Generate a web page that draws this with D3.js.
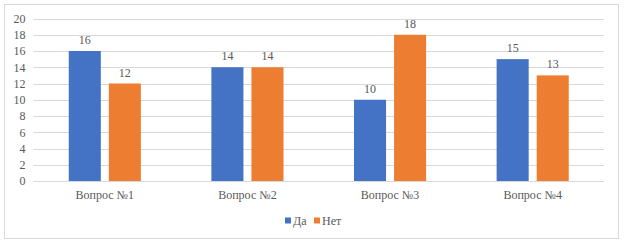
<!DOCTYPE html>
<html>
<head>
<meta charset="utf-8">
<script src="https://cdn.jsdelivr.net/npm/d3@7"></script>
<style>
  html, body { margin: 0; padding: 0; background: #fff; }
  svg text { fill: #595959; }
</style>
</head>
<body>
<div id="chart"></div>
<script>
// --- Data ---
const categories = ['Вопрос №1', 'Вопрос №2', 'Вопрос №3', 'Вопрос №4'];
const seriesNames = ['Да', 'Нет'];
const daValues = [16, 14, 10, 15];
const netValues = [12, 14, 18, 13];
const yTicks = [0, 2, 4, 6, 8, 10, 12, 14, 16, 18, 20];
const colors = ['#4472c4', '#ed7d31'];

const W = 624, H = 244;
const margin = { left: 33.5, right: 20, top: 18.5, bottom: 63 };
const FONT = 'Tinos, "Liberation Serif", "DejaVu Serif", serif';

const svg = d3.select('#chart').append('svg')
    .attr('width', W).attr('height', H)
    .style('font-family', FONT);

// outer chart frame
svg.append('rect')
    .attr('x', 4.5).attr('y', 4.5)
    .attr('width', 614).attr('height', 234)
    .attr('fill', '#fff')
    .attr('stroke', '#d9d9d9');

const x = d3.scaleBand()
    .domain(categories)
    .range([margin.left, W - margin.right]);

const y = d3.scaleLinear()
    .domain([0, 20])
    .range([H - margin.bottom, margin.top]);

const xs = d3.scaleBand()
    .domain(seriesNames)
    .range([0, x.bandwidth()])
    .paddingInner(0.2)
    .paddingOuter(0.88);

// gridlines
svg.append('g')
    .selectAll('line')
    .data(yTicks)
    .join('line')
    .attr('x1', margin.left).attr('x2', W - margin.right)
    .attr('y1', d => Math.round(y(d)) + 0.5)
    .attr('y2', d => Math.round(y(d)) + 0.5)
    .attr('stroke', '#d9d9d9')
    .attr('stroke-width', 1);

// y axis labels
const yAxis = d3.axisLeft(y).tickValues(yTicks).tickSize(0).tickPadding(8);
const gy = svg.append('g')
    .attr('transform', `translate(${margin.left},0)`)
    .call(yAxis);
gy.attr('font-family', null);
gy.select('.domain').remove();
gy.selectAll('text').attr('font-size', 12).attr('fill', '#595959');

// bars
const rows = categories.map((c, i) => ({ cat: c, vals: [daValues[i], netValues[i]] }));
const groups = svg.append('g')
    .selectAll('g')
    .data(rows)
    .join('g')
    .attr('transform', d => `translate(${x(d.cat)},0)`);

groups.selectAll('rect')
    .data(d => d.vals.map((v, j) => ({ name: seriesNames[j], v, j })))
    .join('rect')
    .attr('x', d => xs(d.name))
    .attr('width', xs.bandwidth())
    .attr('y', d => y(d.v))
    .attr('height', d => y(0) - y(d.v))
    .attr('fill', d => colors[d.j]);

groups.selectAll('text.val')
    .data(d => d.vals.map((v, j) => ({ name: seriesNames[j], v, j })))
    .join('text')
    .attr('class', 'val')
    .attr('x', d => xs(d.name) + xs.bandwidth() / 2)
    .attr('y', d => y(d.v) - 7)
    .attr('text-anchor', 'middle')
    .attr('font-size', 12)
    .text(d => d.v);

// category labels
const xAxis = d3.axisBottom(x).tickSize(0).tickPadding(9);
const gx = svg.append('g')
    .attr('transform', `translate(0,${y(0)})`)
    .call(xAxis);
gx.attr('font-family', null);
gx.select('.domain').remove();
gx.selectAll('text').attr('font-size', 12).attr('fill', '#595959');

// legend
const legend = svg.append('g').attr('transform', 'translate(285,221)');
const legendX = [0, 29];
seriesNames.forEach((n, i) => {
    const g = legend.append('g').attr('transform', `translate(${legendX[i]},0)`);
    g.append('rect').attr('x', 0).attr('y', -3.5).attr('width', 6).attr('height', 6).attr('fill', colors[i]);
    g.append('text').attr('x', 8).attr('y', 0).attr('dy', '0.35em').attr('font-size', 12).text(n);
});
</script>
</body>
</html>
